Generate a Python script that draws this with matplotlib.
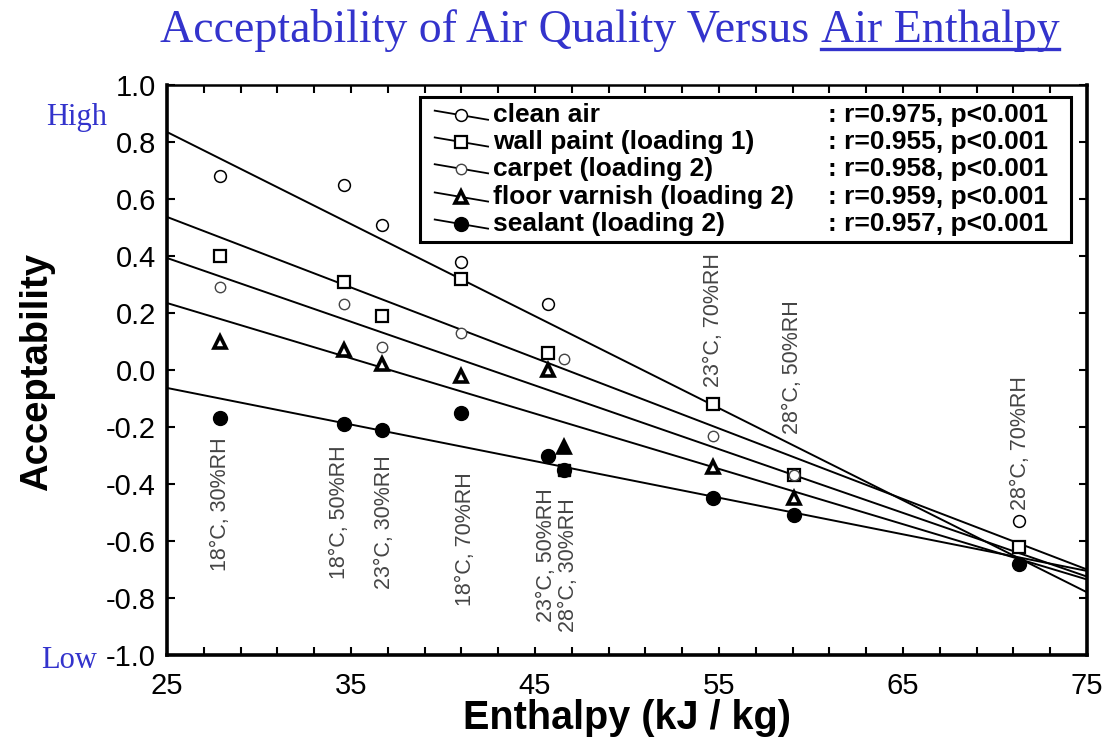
import numpy as np
import matplotlib
matplotlib.use("Agg")
import matplotlib.pyplot as plt
from matplotlib.lines import Line2D
from matplotlib.patches import Rectangle

plt.rcParams["font.family"] = ["Liberation Sans", "DejaVu Sans"]

# enthalpy of the nine test conditions (kJ/kg)
enthalpy = [27.9, 34.6, 36.7, 41.0, 45.7, 46.6, 54.7, 59.1, 71.3]

nan = np.nan
clean_air = [0.68, 0.65, 0.51, 0.38, 0.23, nan, nan, nan, -0.53]
wall_paint = [0.40, 0.31, 0.19, 0.32, 0.06, nan, -0.12, -0.37, -0.62]
carpet = [0.29, 0.23, 0.08, 0.13, nan, 0.04, -0.23, -0.37, nan]
floor_varnish = [0.10, 0.07, 0.02, -0.02, 0.00, -0.27, -0.34, -0.45, nan]
sealant = [-0.17, -0.19, -0.21, -0.15, -0.30, -0.35, -0.45, -0.51, -0.68]

# regression lines, value at x = 25 and x = 75
fit_x = [25, 75]
clean_air_fit = [0.835, -0.78]
wall_paint_fit = [0.537, -0.70]
carpet_fit = [0.393, -0.725]
floor_varnish_fit = [0.235, -0.735]
sealant_fit = [-0.063, -0.705]

series_names = ["clean air", "wall paint (loading 1)", "carpet (loading 2)",
                "floor varnish (loading 2)", "sealant (loading 2)"]
r_values = [0.975, 0.955, 0.958, 0.959, 0.957]

# condition labels: text, x, top y
cond_labels = ["18°C, 30%RH", "18°C, 50%RH", "23°C, 30%RH", "18°C, 70%RH",
               "23°C, 50%RH", "28°C, 30%RH", "23°C, 70%RH", "28°C, 50%RH",
               "28°C, 70%RH"]
cond_x = [27.9, 34.4, 36.8, 41.2, 45.6, 46.8, 54.7, 59.0, 71.4]
cond_top = [-0.235, -0.263, -0.298, -0.358, -0.414, -0.449, 0.41, 0.245, -0.02]

values = [clean_air, wall_paint, carpet, floor_varnish, sealant]
fits = [clean_air_fit, wall_paint_fit, carpet_fit, floor_varnish_fit, sealant_fit]
styles = [
    dict(marker="o", ms=8.5, mfc="white", mec="black", mew=1.1),
    dict(marker="s", ms=9, mfc="white", mec="black", mew=1.6),
    dict(marker="o", ms=7.5, mfc="white", mec="#444444", mew=1.0),
    dict(marker="^", ms=9, mfc="white", mec="black", mew=2.6),
    dict(marker="o", ms=10, mfc="black", mec="black", mew=1.0),
]

fig = plt.figure(figsize=(11.04, 7.51), dpi=100)
ax = fig.add_axes([167 / 1104, 1 - 655 / 751, 920 / 1104, 570 / 751])

for vals, fit, st in zip(values, fits, styles):
    ax.plot(fit_x, fit, color="black", lw=1.4, zorder=2)
    ax.plot(enthalpy, vals, ls="none", zorder=3, **st)

# 28°C, 30%RH points drawn with solid symbols in the original
ax.plot(enthalpy[5], floor_varnish[5], ls="none", marker="^", ms=9,
        mfc="black", mec="black", zorder=4)
ax.plot(enthalpy[5], sealant[5], ls="none", marker="s", ms=9,
        mfc="black", mec="black", zorder=4)

for txt, cx, ct in zip(cond_labels, cond_x, cond_top):
    ax.text(cx, ct, txt, rotation=90, ha="center", va="top",
            fontsize=15.5, color="#444444", zorder=1)

ax.set_xlim(25, 75)
ax.set_ylim(-1.0, 1.0)
xt = np.arange(25, 76, 2)
ax.set_xticks(xt)
ax.set_xticklabels([str(v) if (v - 25) % 10 == 0 else "" for v in xt])
yt = np.linspace(-1.0, 1.0, 11)
ax.set_yticks(yt)
ax.set_yticklabels([f"{v:.1f}" for v in yt])
ax.tick_params(direction="in", length=6, width=1.5, top=True, right=True,
               labelsize=21)
ax.tick_params(axis="x", pad=12)
ax.tick_params(axis="y", pad=8)
for side in ["left", "bottom", "right"]:
    ax.spines[side].set_linewidth(2.6)
ax.spines["top"].set_linewidth(1.8)

# legend box drawn by hand so the stats column lines up
ax.add_patch(Rectangle((0.275, 0.7246), 0.7076, 0.2544, transform=ax.transAxes,
                       fill=True, fc="white", ec="black", lw=2.2, zorder=5))
row_y = [0.947, 0.900, 0.853, 0.8035, 0.756]
for name, r, st, ry in zip(series_names, r_values, styles, row_y):
    ax.add_line(Line2D([0.291, 0.320, 0.349], [ry + 0.008, ry, ry - 0.008],
                       transform=ax.transAxes, color="black", lw=1.3,
                       markevery=[1], zorder=6, **st))
    ax.text(0.354, ry, name, transform=ax.transAxes, ha="left", va="center",
            fontsize=19, fontweight="bold", zorder=6)
    ax.text(0.718, ry, f": r={r:.3f}, p<0.001", transform=ax.transAxes,
            ha="left", va="center", fontsize=19, fontweight="bold", zorder=6)

fig.text(37 / 1104, 1 - 372 / 751, "Acceptability", rotation=90, ha="center",
         va="center", fontsize=27.5, fontweight="bold")
fig.text(627 / 1104, 1 - 718 / 751, "Enthalpy (kJ / kg)", ha="center",
         va="center", fontsize=28.5, fontweight="bold")

blue = "#3333cc"
fig.text(77 / 1104, 1 - 118 / 751, "High", ha="center", va="center",
         fontsize=22, color=blue, family="Liberation Serif")
fig.text(69 / 1104, 1 - 660 / 751, "Low", ha="center", va="center",
         fontsize=22, color=blue, family="Liberation Serif")

# title, with the last words underlined
t1 = fig.text(160 / 1104, 1 - 42 / 751, "Acceptability of Air Quality Versus ",
              ha="left", va="baseline", fontsize=33, color=blue,
              family="Liberation Serif")
fig.canvas.draw()
r = fig.canvas.get_renderer()
bb1 = t1.get_window_extent(r)
t2 = fig.text(bb1.x1 / fig.bbox.width, 1 - 42 / 751, "Air Enthalpy",
              ha="left", va="baseline", fontsize=33, color=blue,
              family="Liberation Serif")
fig.canvas.draw()
bb2 = t2.get_window_extent(r)
uy = 42 + 7
fig.add_artist(Line2D([bb2.x0 / fig.bbox.width, bb2.x1 / fig.bbox.width],
                      [1 - uy / 751, 1 - uy / 751], transform=fig.transFigure,
                      color=blue, lw=2.4))

fig.savefig("out.png", dpi=100)
